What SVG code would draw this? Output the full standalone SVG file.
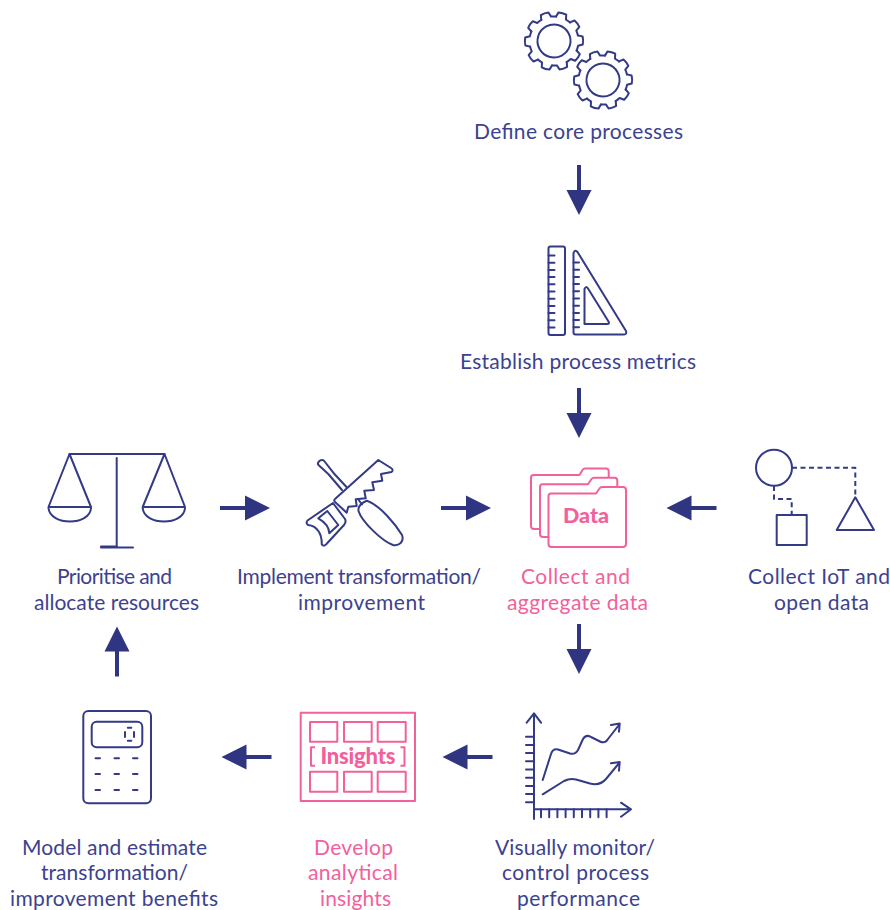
<svg xmlns="http://www.w3.org/2000/svg" xmlns:xlink="http://www.w3.org/1999/xlink" width="890" height="910" viewBox="0 0 890 910">
<style>
.n{fill:none;stroke:#333a86;stroke-width:2;stroke-linejoin:round;stroke-linecap:round}
.p{fill:none;stroke:#f2619b;stroke-width:2;stroke-linejoin:round}
.d{stroke-dasharray:5 3.5;stroke-linecap:butt}
.t{font-family:"Lato","Liberation Sans",sans-serif;font-size:21px;fill:#3c4290;text-anchor:middle}
.tp{fill:#f2619b}
.b{font-family:"Lato","Liberation Sans",sans-serif;font-weight:900;fill:#f2619b;text-anchor:middle}
.a{fill:#2f3580;stroke:none}
.s{stroke:#2f3580;stroke-width:4;fill:none}
</style>
<defs>
<path id="tooth" d="M-5.2 -24L-4 -28.7Q0 -29.6 4 -28.7L5.2 -24A24.5 24.5 0 0 1 10 -22.4"/>
<g id="gear" class="n">
<circle r="16.5"/>
<use xlink:href="#tooth" href="#tooth"/>
<use xlink:href="#tooth" href="#tooth" transform="rotate(36)"/>
<use xlink:href="#tooth" href="#tooth" transform="rotate(72)"/>
<use xlink:href="#tooth" href="#tooth" transform="rotate(108)"/>
<use xlink:href="#tooth" href="#tooth" transform="rotate(144)"/>
<use xlink:href="#tooth" href="#tooth" transform="rotate(180)"/>
<use xlink:href="#tooth" href="#tooth" transform="rotate(216)"/>
<use xlink:href="#tooth" href="#tooth" transform="rotate(252)"/>
<use xlink:href="#tooth" href="#tooth" transform="rotate(288)"/>
<use xlink:href="#tooth" href="#tooth" transform="rotate(324)"/>
</g>
<g id="arrow"><path class="s" d="M-25 0H3"/><path class="a" d="M0 -12.500L25 0L0 12.500Z"/></g>
</defs>
<g id="connectors">
<use xlink:href="#arrow" href="#arrow" transform="translate(579 190) rotate(90)"/>
<use xlink:href="#arrow" href="#arrow" transform="translate(579 413) rotate(90)"/>
<use xlink:href="#arrow" href="#arrow" transform="translate(245 508)"/>
<use xlink:href="#arrow" href="#arrow" transform="translate(466 508)"/>
<use xlink:href="#arrow" href="#arrow" transform="translate(691.500 508) rotate(180)"/>
<use xlink:href="#arrow" href="#arrow" transform="translate(579 649) rotate(90)"/>
<use xlink:href="#arrow" href="#arrow" transform="translate(467.500 757) rotate(180)"/>
<use xlink:href="#arrow" href="#arrow" transform="translate(246.500 757) rotate(180)"/>
<use xlink:href="#arrow" href="#arrow" transform="translate(117 651.500) rotate(-90)"/>
</g>
<g id="define">
<use xlink:href="#gear" href="#gear" transform="translate(554 41) rotate(17)"/>
<use xlink:href="#gear" href="#gear" transform="translate(603 80) rotate(17)"/>
<text class="t" x="578.500" y="139" textLength="209">Define core processes</text>
</g>
<g id="metrics">
<rect class="n" x="548.500" y="246.500" width="16.500" height="88.500" rx="2"/>
<path class="n" d="M548.500 255.500h6M548.500 262.700h6M548.500 269.900h6M548.500 277.100h6M548.500 284.300h6M548.500 291.500h6M548.500 298.700h6M548.500 305.900h6M548.500 313.100h6M548.500 320.300h6M548.500 327.500h6"/>
<path class="n" d="M573.500 253Q575 249 577.500 252L626 331Q627 334.500 624 334.500H575.500Q573.500 334.500 573.500 332.500Z"/>
<path class="n" d="M584.500 289Q586 285.500 588 288.500L608.500 321.500Q610 324 607 324H584.500Z"/>
<path class="n" d="M573.500 262.500h5.500M573.500 269.700h5.500M573.500 276.900h5.500M573.500 284.100h5.500M573.500 291.300h5.500M573.500 298.500h5.500M573.500 305.700h5.500M573.500 312.900h5.500M573.500 320.100h5.500M573.500 327.300h5.500"/>
<text class="t" x="578" y="369" textLength="236">Establish process metrics</text>
</g>
<g id="prioritise">
<path class="n" d="M69.500 454H164.500M116.700 458V547M101 547.500H133M101 546.500H117"/>
<path class="n" d="M48.500 507L69.500 454L91 507ZM48.500 508C50 526 90 526 91 508"/>
<path class="n" d="M142.700 507L164.500 454L185 507ZM142.700 508C144 526 184 526 185 508"/>
<text class="t" x="114.500" y="584" textLength="115">Prioritise and</text>
<text class="t" x="116.500" y="610" textLength="165">allocate resources</text>
</g>
<g id="implement">
<path class="n" d="M378.300 460L391 468Q394 470 391.500 472L381 474L382.300 480.700L372.300 482.300L374 490L364.300 490.700L365.700 498.300L355.700 499.300L356.700 506L348.300 506.700L346.700 512.700L335 502Q333.500 500 335 499Z"/>
<path class="n" d="M333 503L307.500 520.500Q305.500 523 308 525C318 526 322 535 321.700 544Q323 547 326 544.500L344 525Q346.500 522 345 519Z"/>
<path class="n" d="M318.300 518.300L327.300 511L338.300 525L329.300 533.300C329 527 325 522 318.300 518.300Z"/>
<path class="n" d="M346.700 487.300L333.300 472.700L323.800 460.500Q322 459.300 320 460.500L318.500 462Q317 464 319 465.500L328.300 474L342 490"/>
<path class="n" d="M358.300 499.500L362 504.500"/>
<path class="n" d="M366.700 500.700C380 505 396 525 402 535C404.500 542 399 546 393 545C382 541 362 522 358.500 511C358 507 361 503 366.700 500.700Z"/>
<text class="t" x="359" y="584" textLength="244">Implement transformation/</text>
<text class="t" x="361.500" y="610" textLength="127">improvement</text>
</g>
<g id="collect">
<path class="p" d="M608.700 478V471Q608.700 468.500 606 468.500H585Q583.500 468.500 582.500 470L579.500 475H533.500Q531 475 531 477.500V526Q531 529 534 529H540"/>
<path class="p" d="M617.300 486.700V480.500Q617.300 477.700 614.500 477.700H594Q592.500 477.700 591.500 479L588 484.300H542.500Q540 484.300 540 487V534Q540 537 543 537H548.500"/>
<path class="p" d="M548.500 496V544Q548.500 547 551.500 547H623Q626 547 626 544V490Q626 487 623 487H602Q600.500 487 599.500 488.500L596 493.500H551Q548.500 493.500 548.500 496Z"/>
<text class="b" x="586" y="523" font-size="21.500px">Data</text>
<text class="t tp" x="575.500" y="584" textLength="109">Collect and</text>
<text class="t tp" x="577.500" y="610" textLength="141">aggregate data</text>
</g>
<g id="iot">
<circle class="n" cx="774" cy="467.700" r="18"/>
<path class="n d" d="M792 467.700H855.300V497M774 486V499H791.700V515"/>
<rect class="n" x="776.700" y="515" width="30" height="30"/>
<path class="n" d="M855.300 497.300L874 530H836.700Z"/>
<text class="t" x="819" y="584" textLength="142">Collect IoT and</text>
<text class="t" x="821.500" y="610" textLength="95">open data</text>
</g>
<g id="monitor">
<path class="n" d="M534 714V819M526.700 722.700L534 713.300L541 722.700M534 809.300H630M621 802.700L631 809.300L621 816.700"/>
<path class="n" d="M526 736.700h8M526 744.900h8M526 753.100h8M526 761.300h8M526 769.500h8M526 777.700h8M526 785.900h8M526 794.100h8M526 802.300h8M541 809.300v8M549.200 809.300v8M557.400 809.300v8M565.600 809.300v8M573.800 809.300v8M582 809.300v8M590.200 809.300v8M598.400 809.300v8M606.600 809.300v8"/>
<path class="n" d="M542.700 780L551 754Q553 748 558 749.500L570 753.500Q575 755 578 750L583 739Q586 734 591 737L600 741.500Q605 744 608 739L619.700 724M611 725L619.700 723.500L619 731.700"/>
<path class="n" d="M542.700 794.300L564 781Q570 778 576 779.500L590 783.500Q600 786 606 779L619.700 762.300M611 763.300L619.700 762L619 770.700"/>
<text class="t" x="575" y="855" textLength="160">Visually monitor/</text>
<text class="t" x="575.500" y="880" textLength="147">control process</text>
<text class="t" x="578.500" y="906" textLength="123">performance</text>
</g>
<g id="insights">
<rect class="p" x="300.700" y="712.700" width="114.300" height="88.300"/>
<path class="p" d="M310 722h27.300v19.700H310ZM344 722h27.700v19.700H344ZM377.700 722h28v19.700h-28ZM310 771.700h27.300v20H310ZM344 771.700h27.700v20H344ZM377.700 771.700h28v20h-28Z"/>
<path class="p" d="M315 747.300H311V765.700H315M400.500 747.300H404.500V765.700H400.500"/>
<text class="b" x="358" y="764" font-size="22px" textLength="75">Insights</text>
<text class="t tp" x="353.500" y="855" textLength="79">Develop</text>
<text class="t tp" x="353" y="880" textLength="90">analytical</text>
<text class="t tp" x="355.500" y="906" textLength="71">insights</text>
</g>
<g id="model">
<rect class="n" x="83.300" y="711" width="67.700" height="92.300" rx="5"/>
<rect class="n" x="91.700" y="721.700" width="50.600" height="25.600" rx="5"/>
<path class="n" d="M127.800 727.700h3.500M127.800 740.700h3.500M125 732v5M134 732v5"/>
<path class="n" d="M95.500 758.300h4.500M114.500 758.300h4.500M133 758.300h4.500M95.500 774h4.500M114.500 774h4.500M133 774h4.500M95.500 790h4.500M114.500 790h4.500M133 790h4.500"/>
<text class="t" x="114.500" y="855" textLength="185">Model and estimate</text>
<text class="t" x="114.500" y="880" textLength="147">transformation/</text>
<text class="t" x="114" y="906" textLength="208">improvement benefits</text>
</g>
</svg>
